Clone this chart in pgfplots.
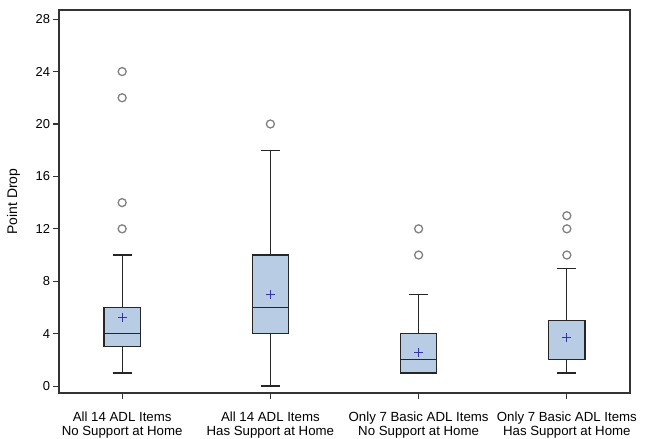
\documentclass[border=0pt]{standalone}
\usepackage{fontspec}
\setmainfont{Liberation Sans}
\usepackage{pgfplots}
\pgfplotsset{compat=1.18}
\usepgfplotslibrary{statistics}
\definecolor{boxfill}{RGB}{184,204,228}
\definecolor{meanblue}{RGB}{51,51,170}
\definecolor{outgray}{RGB}{128,128,128}
\pgfplotsset{
  myboxstyle/.style={solid, draw=black!85, line width=1.2pt, fill=boxfill,
    mark=o, mark size=4bp, mark options={draw=outgray, fill=white, line width=1.3pt},
    boxplot/every box/.style={draw=black!85, line width=1.2pt, fill=boxfill},
    boxplot/every whisker/.style={draw=black!85, line width=1.2pt},
    boxplot/every median/.style={draw=black!85, line width=1.2pt},
  },
}
\begin{document}
\begin{tikzpicture}
\path[use as bounding box] (-59bp,-46bp) rectangle (588bp,393bp);
\begin{axis}[
  at={(0,0)}, anchor=south west,
  scale only axis,
  width=571bp, height=383bp,
  xmin=0.574, xmax=4.426,
  ymin=-0.53, ymax=28.7,
  ytick={0,4,...,28},
  xtick={1,2,3,4},
  xticklabels={{All 14 ADL Items\\No Support at Home},{All 14 ADL Items\\Has Support at Home},{Only 7 Basic ADL Items\\No Support at Home},{Only 7 Basic ADL Items\\Has Support at Home}},
  xticklabel style={align=center, font=\fontsize{13.3}{13.8}\selectfont, yshift=-10bp},
  yticklabel style={font=\fontsize{13}{14}\selectfont},
  /pgf/number format/assume math mode=true,
  tick align=outside,
  major tick length=5.5bp,
  xtick pos=bottom, ytick pos=left,
  axis line style={draw=black!80, line width=1.2pt},
  every tick/.style={draw=black!80, line width=1.1pt},
  ylabel={Point Drop},
  ylabel style={font=\fontsize{14}{15}\selectfont, at={(axis description cs:-0.062,0.5)}},
  boxplot/draw direction=y,
  boxplot/box extend=0.245,
  boxplot/whisker extend=0.13,
  clip=false,
]
\addplot[myboxstyle, boxplot prepared={draw direction=y, draw position=1, lower whisker=1, lower quartile=3, median=4, upper quartile=6, upper whisker=10}]
  coordinates {(1,12) (1,14) (1,22) (1,24)};
\addplot[myboxstyle, boxplot prepared={draw direction=y, draw position=2, lower whisker=0, lower quartile=4, median=6, upper quartile=10, upper whisker=18}]
  coordinates {(2,20)};
\addplot[myboxstyle, boxplot prepared={draw direction=y, draw position=3, lower whisker=1, lower quartile=1, median=2, upper quartile=4, upper whisker=7}]
  coordinates {(3,10) (3,12)};
\addplot[myboxstyle, boxplot prepared={draw direction=y, draw position=4, lower whisker=1, lower quartile=2, median=2, upper quartile=5, upper whisker=9}]
  coordinates {(4,10) (4,12) (4,13)};
\addplot[only marks, mark=+, mark size=4.5bp, mark options={draw=meanblue, line width=1pt}]
  coordinates {(1,5.24) (2,7.02) (3,2.57) (4,3.72)};
\end{axis}
\end{tikzpicture}
\end{document}
